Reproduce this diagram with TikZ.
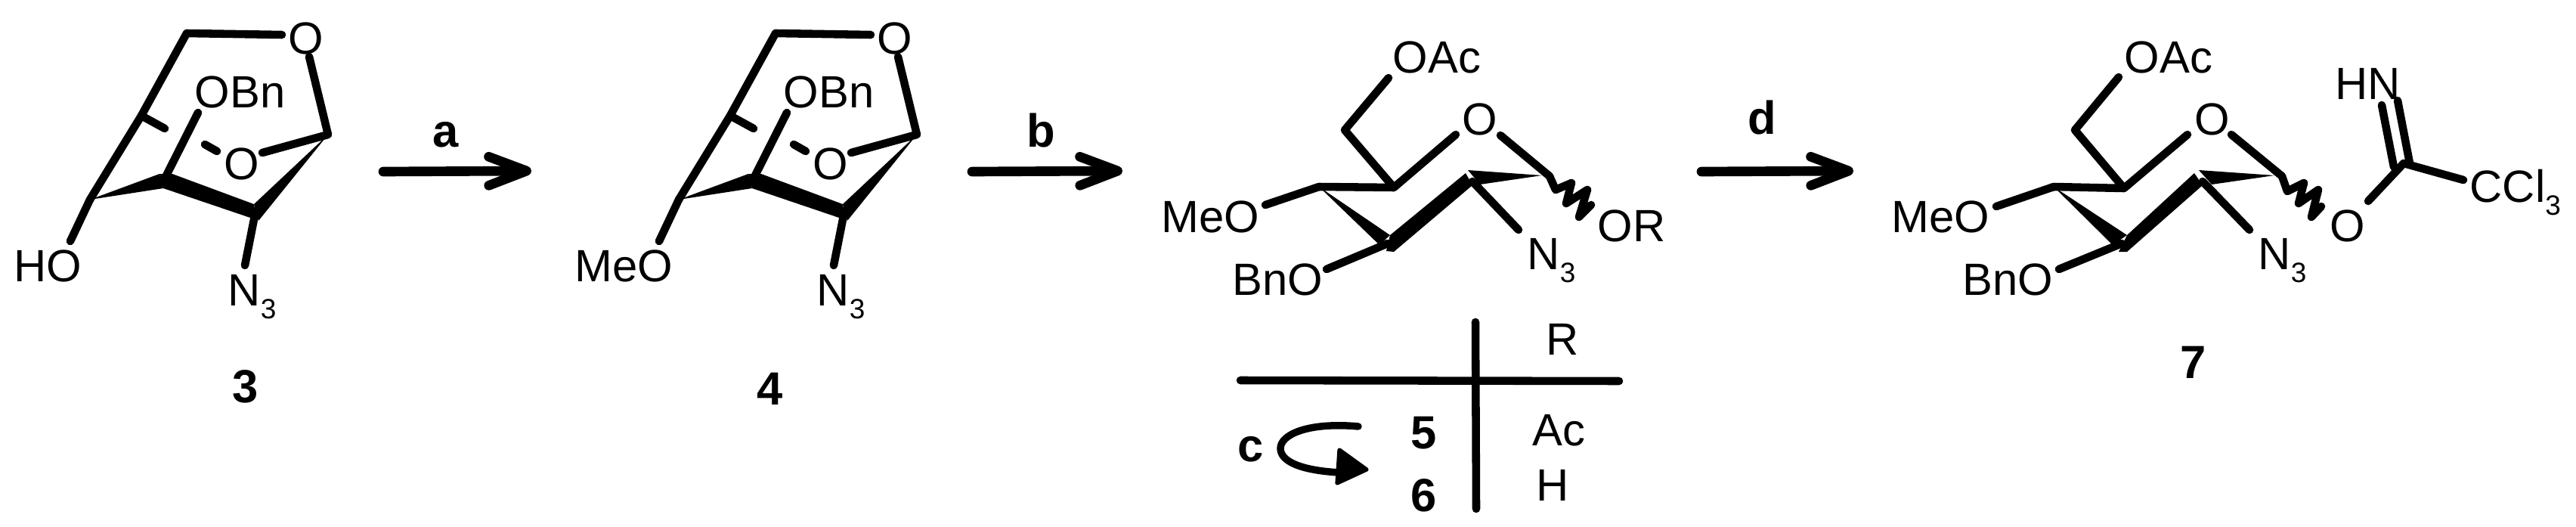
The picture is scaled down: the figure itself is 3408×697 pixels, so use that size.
\documentclass[tikz,border=0pt]{standalone}
\usepackage{fontspec}
\setmainfont{Liberation Sans}
\usetikzlibrary{arrows.meta}
\newcommand{\subthree}{{\fontsize{10.5}{12}\selectfont\raisebox{-5pt}{3}}}
\tikzset{
  bond/.style={line width=3pt, line cap=round, line join=round},
  atom/.style={anchor=base west, inner sep=0pt, font=\fontsize{17}{20}\selectfont},
  lab/.style={anchor=base, inner sep=0pt, font=\fontsize{17.5}{20}\selectfont\bfseries},
  react/.style={line width=3.6pt, line cap=round, -{Straight Barb[length=5mm,width=3.8mm,line width=3.6pt,round]}}
}
\begin{document}
\begin{tikzpicture}[x=0.01cm, y=-0.01cm]
\useasboundingbox (0,0) rectangle (3408,697);
% compound 3
\node[atom] (oa0) at (381,71.5){O};
\node[atom] (oa1) at (257,142){OBn};
\node[atom] (oa2) at (296,237){O};
\node[atom] (hoa) at (18,372){HO};
\node[atom] (nna) at (301,404){N\subthree};
\node[lab] (tid3) at (325,532){3};
\coordinate (ca0) at (247,44);
\coordinate (ca1) at (187,153);
\coordinate (ca2) at (119,264);
\coordinate (ca3) at (216,240);
\coordinate (ca4) at (338,280);
\coordinate (ca5) at (434,178);
\coordinate (ea0) at (373,46);
\coordinate (ea1) at (409,75);
\coordinate (ea2) at (347,202);
\coordinate (ea3) at (218,170);
\coordinate (ea4) at (271,191);
\coordinate (ea5) at (287,200);
\coordinate (ea6) at (262,149);
\coordinate (ea7) at (93,319);
\coordinate (ea8) at (324,351);
\draw[bond] (ea0) -- (ca0) -- (ca1) -- (ca2);
\draw[bond] (ea1) -- (ca5) -- (ea2);
\draw[bond] (ca1) -- (ea3);
\draw[bond] (ea4) -- (ea5);
\draw[bond] (ca3) -- (ea6);
\draw[bond] (ca2) -- (ea7);
\draw[bond] (ca4) -- (ea8);
\fill (ca2) -- (211,230) -- (216,249) -- cycle;
\fill (228,230) -- (336,270) -- (340,291) -- (216,249) -- (211,230) -- cycle;
\fill (ca5) -- (336,270) -- (342,292) -- cycle;
% step a
\coordinate (ra0) at (507,227);
\coordinate (ra1) at (703,226);
\draw[react] (ra0) -- (ra1);
\node[lab] (la) at (590,194){a};
% compound 4
\node[atom] (ob0) at (1160,71.5){O};
\node[atom] (ob1) at (1036,142){OBn};
\node[atom] (ob2) at (1075,237){O};
\node[atom] (meb) at (760,372){MeO};
\node[atom] (nnb) at (1080,404){N\subthree};
\node[lab] (tid4) at (1019,535){4};
\coordinate (cb0) at (1026,44);
\coordinate (cb1) at (966,153);
\coordinate (cb2) at (898,264);
\coordinate (cb3) at (995,240);
\coordinate (cb4) at (1117,280);
\coordinate (cb5) at (1213,178);
\coordinate (eb0) at (1152,46);
\coordinate (eb1) at (1188,75);
\coordinate (eb2) at (1126,202);
\coordinate (eb3) at (997,170);
\coordinate (eb4) at (1050,191);
\coordinate (eb5) at (1066,200);
\coordinate (eb6) at (1041,149);
\coordinate (eb7) at (872,319);
\coordinate (eb8) at (1103,351);
\draw[bond] (eb0) -- (cb0) -- (cb1) -- (cb2);
\draw[bond] (eb1) -- (cb5) -- (eb2);
\draw[bond] (cb1) -- (eb3);
\draw[bond] (eb4) -- (eb5);
\draw[bond] (cb3) -- (eb6);
\draw[bond] (cb2) -- (eb7);
\draw[bond] (cb4) -- (eb8);
\fill (cb2) -- (990,230) -- (995,249) -- cycle;
\fill (1007,230) -- (1115,270) -- (1119,291) -- (995,249) -- (990,230) -- cycle;
\fill (cb5) -- (1115,270) -- (1121,292) -- cycle;
% step b
\coordinate (rb0) at (1286,227);
\coordinate (rb1) at (1485,226);
\draw[react] (rb0) -- (rb1);
\node[lab] (lb) at (1377,194){b};
% compounds 5 and 6
\node[atom] (oac) at (1842,97){OAc};
\node[atom] (oc0) at (1934,178){O};
\node[atom] (mec) at (1536,307){MeO};
\node[atom] (bnc) at (1630,390){BnO};
\node[atom] (nnc) at (2020,356){N\subthree};
\node[atom] (orc) at (2113,319){OR};
\coordinate (cc0) at (1779,172);
\coordinate (cc1) at (1844,248);
\coordinate (cc2) at (1745,247);
\coordinate (cc3) at (1836,322);
\coordinate (cc4) at (1948,240);
\coordinate (cc5) at (2050,233);
\coordinate (ec0) at (1837,103);
\coordinate (ec1) at (1926,178);
\coordinate (ec2) at (1985,179);
\coordinate (ec3) at (1674,271);
\coordinate (ec4) at (1755,356);
\coordinate (ec5) at (2009,304);
\draw[bond] (ec0) -- (cc0) -- (cc1) -- (ec1);
\draw[bond] (cc2) -- (cc1);
\draw[bond] (ec3) -- (cc2);
\draw[bond] (ec2) -- (cc5);
\draw[bond] (ec4) -- (cc3);
\draw[bond] (cc4) -- (ec5);
\fill (cc2) -- (1839,311) -- (1825,324) -- cycle;
\fill (1839,311) -- (1939,229) -- (1948,245) -- (1844,333) -- (1834,332) -- cycle;
\fill (1942,225) -- (2040,232) -- (1958,244) -- cycle;
\draw[bond] (cc5) -- (2058,251) -- (2079,242) -- (2072,269) -- (2100,251) -- (2089,287) -- (2105,271);
% table of R
\coordinate (ta0) at (1952,426);
\coordinate (ta1) at (1953,673);
\coordinate (ta2) at (1641,503);
\coordinate (ta3) at (2142,504);
\draw[bond] (ta0) -- (ta1);
\draw[bond] (ta2) -- (ta3);
\node[atom] (hdr) at (2045,469){R};
\node[atom] (rac) at (2027,589){Ac};
\node[atom] (rhh) at (2032,662){H};
\node[lab] (tid5) at (1884,593){5};
\node[lab] (tid6) at (1884,676){6};
\node[lab] (lc) at (1655,610){c};
% step c
\coordinate (rc0) at (1797,564);
\coordinate (rc1) at (1694,593);
\coordinate (rc2) at (1772,625);
\draw[line width=2.7pt, line cap=round] (rc0) .. controls (1730,558) and (1694,575) .. (rc1) .. controls (1694,610) and (1720,622) .. (rc2);
\fill[draw, line width=1.5pt, line join=round] (1772,595) -- (1808,621) -- (1769,639) -- cycle;
% step d
\coordinate (rd0) at (2251,227);
\coordinate (rd1) at (2452,226);
\draw[react] (rd0) -- (rd1);
\node[lab] (ld) at (2331,177){d};
% compound 7
\node[atom] (oad) at (2810,97){OAc};
\node[atom] (od0) at (2903,178){O};
\node[atom] (med) at (2502,307){MeO};
\node[atom] (bnd) at (2596,390){BnO};
\node[atom] (nnd) at (2987,356){N\subthree};
\node[atom] (od1) at (3082,319){O};
\node[atom] (hnd) at (3089,131){HN};
\node[atom] (cld) at (3267,267){CCl\subthree};
\node[lab] (tid7) at (2902,500){7};
\coordinate (cd0) at (2745,172);
\coordinate (cd1) at (2810,249);
\coordinate (cd2) at (2717,247);
\coordinate (cd3) at (2807,322);
\coordinate (cd4) at (2914,240);
\coordinate (cd5) at (3019,233);
\coordinate (cd6) at (3180,216);
\coordinate (ed0) at (2803,102);
\coordinate (ed1) at (2894,178);
\coordinate (ed2) at (2952,178);
\coordinate (ed3) at (2641,273);
\coordinate (ed4) at (2724,356);
\coordinate (ed5) at (2976,304);
\coordinate (ed6) at (3133,266);
\coordinate (ed7) at (3259,238);
\coordinate (ed8) at (3172,133);
\coordinate (ed9) at (3151,139);
\coordinate (ed10) at (3167,221);
\coordinate (ed11) at (3188,216);
\draw[bond] (ed0) -- (cd0) -- (cd1) -- (ed1);
\draw[bond] (cd2) -- (cd1);
\draw[bond] (ed3) -- (cd2);
\draw[bond] (ed2) -- (cd5);
\draw[bond] (ed4) -- (cd3);
\draw[bond] (cd4) -- (ed5);
\fill (cd2) -- (2814,311) -- (2795,324) -- cycle;
\fill (2814,311) -- (2903,229) -- (2914,245) -- (2814,333) -- (2803,333) -- cycle;
\fill (2909,225) -- (3009,232) -- (2926,244) -- cycle;
\draw[bond] (cd5) -- (3026,253) -- (3048,242) -- (3041,269) -- (3067,251) -- (3058,287) -- (3071,273);
\draw[bond] (ed6) -- (cd6);
\draw[bond] (cd6) -- (ed7);
\draw[bond] (ed11) -- (ed8);
\draw[bond] (ed9) -- (ed10);
\end{tikzpicture}
\end{document}
